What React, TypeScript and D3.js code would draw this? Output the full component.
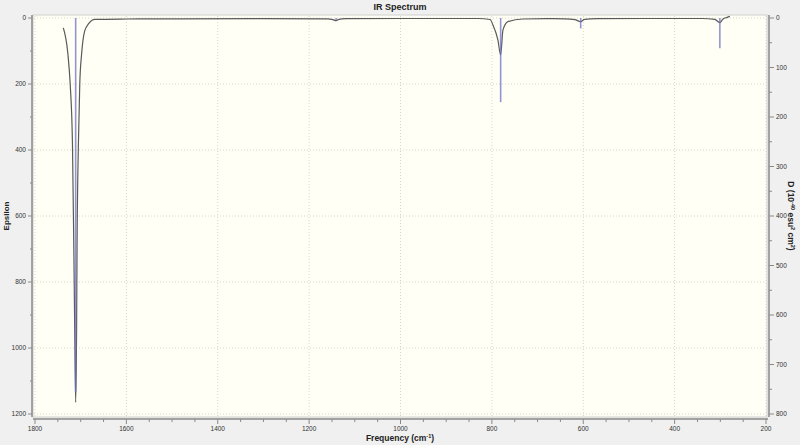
import React, { useEffect, useRef } from 'react';
import * as d3 from 'd3';

// broadened spectrum (frequency in cm-1, epsilon)
const curveFreq = [1738, 1728, 1723, 1718, 1715, 1713, 1711, 1709, 1708, 1705, 1702, 1698, 1691, 1683, 1669, 1600, 1500, 1300, 1160, 1148, 1141, 1135, 1120, 1000, 900, 830, 804, 797.6, 786.7, 780.8, 775.7, 764.8, 732, 680, 640, 618, 606, 597, 570, 450, 340, 312, 301, 294, 285, 279];
const curveEps = [30, 109, 200, 382, 700, 950, 1165, 950, 700, 382, 200, 109, 38, 18, 4, 3, 2.5, 2, 2.5, 5, 8, 4, 2, 1.5, 1.5, 1.5, 4.5, 21, 67, 112, 36, 11, 3, 2, 2.5, 5, 11, 4, 2, 1.5, 1.5, 4, 14, 3, -2, -5];

// stick spectrum (frequency, D in 10^-40 esu^2 cm^2)
const stickFreq = [1711, 1141, 780.8, 605.6, 301];
const stickD = [755, 4, 170, 21, 61];

const xTicks = [1800, 1600, 1400, 1200, 1000, 800, 600, 400, 200];
const epsTicks = [0, 200, 400, 600, 800, 1000, 1200];
const dTicks = [0, 100, 200, 300, 400, 500, 600, 700, 800];

const App = () => {
    const svgRef = useRef<SVGSVGElement>(null);

    useEffect(() => {
        if (!svgRef.current) return;
        const svg = d3.select(svgRef.current);
        svg.selectAll("*").remove();

        const font = "'Liberation Sans', Arial, sans-serif";
        const x = d3.scaleLinear().domain([1800, 200]).range([35, 766]);
        const yL = d3.scaleLinear().domain([0, 1200]).range([18, 414]);
        const yR = d3.scaleLinear().domain([0, 800]).range([18, 414]);

        svg.append("rect").attr("width", 800).attr("height", 445).attr("fill", "#f0f0f0");
        svg.append("rect").attr("x", 33).attr("y", 15).attr("width", 734).attr("height", 402)
            .attr("fill", "#fffff5").attr("stroke", "#cfcfcf").attr("stroke-width", 1);

        // grid
        const grid = svg.append("g").attr("stroke", "#d6d6c8").attr("stroke-dasharray", "1,2").attr("stroke-width", 1);
        grid.selectAll("line.v").data(xTicks).join("line").attr("class", "v")
            .attr("x1", d => x(d)).attr("x2", d => x(d)).attr("y1", 16).attr("y2", 416);
        grid.selectAll("line.h").data(epsTicks).join("line").attr("class", "h")
            .attr("x1", 34).attr("x2", 766).attr("y1", d => yL(d)).attr("y2", d => yL(d));

        // curve
        const pts = curveFreq.map((f, i) => [x(f), yL(curveEps[i])] as [number, number]);
        svg.append("path").datum(pts)
            .attr("d", d3.line().curve(d3.curveMonotoneX))
            .attr("fill", "none").attr("stroke", "#5a5a5a").attr("stroke-width", 1.2);

        // sticks
        svg.append("g").selectAll("line").data(stickFreq).join("line")
            .attr("x1", d => x(d)).attr("x2", d => x(d))
            .attr("y1", yR(0)).attr("y2", (d, i) => yR(stickD[i]))
            .attr("stroke", "#6e72c4").attr("stroke-opacity", 0.75).attr("stroke-width", 1.6);

        const axisColor = "#8a8a8a";
        const labelColor = "#333";

        // left axis
        svg.append("line").attr("x1", 32).attr("x2", 32).attr("y1", 15).attr("y2", 417)
            .attr("stroke", axisColor).attr("stroke-width", 1.5);
        const leftMinor = d3.range(0, 1201, 100);
        svg.append("g").selectAll("line").data(leftMinor).join("line")
            .attr("x1", d => d % 200 === 0 ? 28 : 30).attr("x2", 32)
            .attr("y1", d => yL(d)).attr("y2", d => yL(d))
            .attr("stroke", axisColor);
        svg.append("g").selectAll("text").data(epsTicks).join("text")
            .attr("x", 26).attr("y", d => yL(d)).attr("dy", "0.35em")
            .attr("text-anchor", "end").attr("font-family", font).attr("font-size", 6.5)
            .attr("fill", labelColor).text(d => d);

        // right axis
        svg.append("line").attr("x1", 769).attr("x2", 769).attr("y1", 15).attr("y2", 417)
            .attr("stroke", axisColor).attr("stroke-width", 1.5);
        const rightMinor = d3.range(0, 801, 50);
        svg.append("g").selectAll("line").data(rightMinor).join("line")
            .attr("x1", 769).attr("x2", d => d % 100 === 0 ? 774 : 772)
            .attr("y1", d => yR(d)).attr("y2", d => yR(d))
            .attr("stroke", axisColor);
        svg.append("g").selectAll("text").data(dTicks).join("text")
            .attr("x", 776).attr("y", d => yR(d)).attr("dy", "0.35em")
            .attr("text-anchor", "start").attr("font-family", font).attr("font-size", 6.5)
            .attr("fill", labelColor).text(d => d);

        // bottom axis
        svg.append("line").attr("x1", 33).attr("x2", 768).attr("y1", 419).attr("y2", 419)
            .attr("stroke", axisColor).attr("stroke-width", 1.5);
        const bottomMinor = d3.range(200, 1801, 50);
        svg.append("g").selectAll("line").data(bottomMinor).join("line")
            .attr("x1", d => x(d)).attr("x2", d => x(d))
            .attr("y1", 419).attr("y2", d => d % 200 === 0 ? 424 : 422)
            .attr("stroke", axisColor);
        svg.append("g").selectAll("text").data(xTicks).join("text")
            .attr("x", d => x(d)).attr("y", 431)
            .attr("text-anchor", "middle").attr("font-family", font).attr("font-size", 6.5)
            .attr("fill", labelColor).text(d => d);

        // titles
        svg.append("text").attr("x", 400).attr("y", 10).attr("text-anchor", "middle")
            .attr("font-family", font).attr("font-size", 9).attr("font-weight", "bold")
            .attr("fill", "#222").text("IR Spectrum");

        svg.append("text").attr("transform", "translate(8.5,216) rotate(-90)")
            .attr("text-anchor", "middle").attr("font-family", font).attr("font-size", 8)
            .attr("font-weight", "bold").attr("fill", "#222").text("Epsilon");

        const xt = svg.append("text").attr("x", 400).attr("y", 441).attr("text-anchor", "middle")
            .attr("font-family", font).attr("font-size", 8.5).attr("font-weight", "bold").attr("fill", "#222");
        xt.append("tspan").text("Frequency (cm");
        xt.append("tspan").attr("dy", -3).attr("font-size", 5.5).text("-1");
        xt.append("tspan").attr("dy", 3).text(")");

        const rt = svg.append("text").attr("transform", "translate(788,216) rotate(90)")
            .attr("text-anchor", "middle").attr("font-family", font).attr("font-size", 8.5)
            .attr("font-weight", "bold").attr("fill", "#222");
        rt.append("tspan").text("D (10");
        rt.append("tspan").attr("dy", -3).attr("font-size", 5.5).text("-40");
        rt.append("tspan").attr("dy", 3).text(" esu");
        rt.append("tspan").attr("dy", -3).attr("font-size", 5.5).text("2");
        rt.append("tspan").attr("dy", 3).text(" cm");
        rt.append("tspan").attr("dy", -3).attr("font-size", 5.5).text("2");
        rt.append("tspan").attr("dy", 3).text(")");
    }, []);

    return (
        <div style={{ position: 'fixed', left: 0, top: 0 }}>
            <svg ref={svgRef} width={800} height={445} style={{ display: 'block' }} />
        </div>
    );
};

export default App;
